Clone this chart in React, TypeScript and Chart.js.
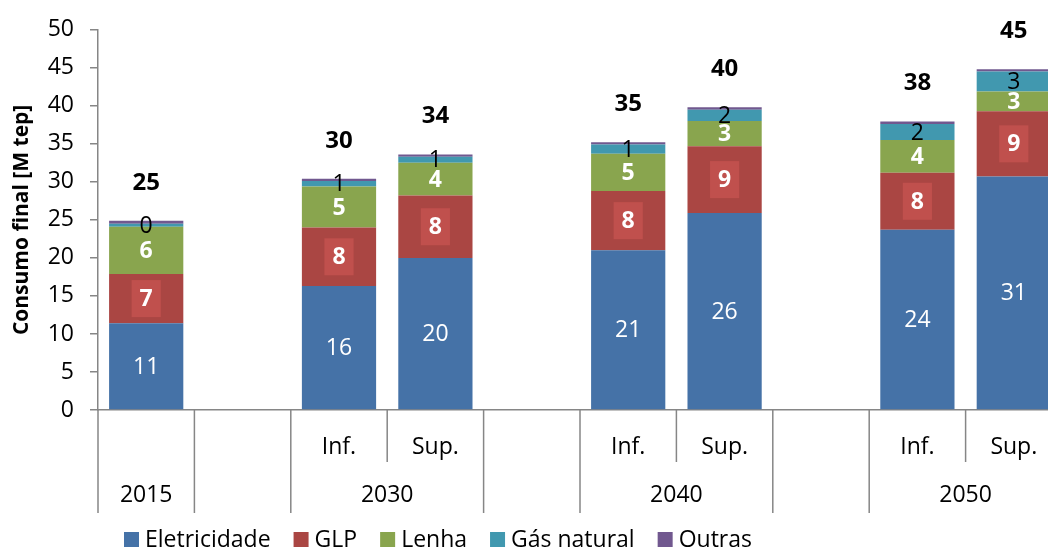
import { useEffect, useRef } from 'react';
import { Chart, registerables } from 'chart.js';

Chart.register(...registerables);

// ---- data ----
const subLabels = ['', '', 'Inf.', 'Sup.', '', 'Inf.', 'Sup.', '', 'Inf.', 'Sup.'];
const groupLabels = ['2015', '', '2030', '2030', '', '2040', '2040', '', '2050', '2050'];
const seriesNames = ['Eletricidade', 'GLP', 'Lenha', 'Gás natural', 'Outras'];
const eletricidade = [11.4, null, 16.3, 20.0, null, 21.0, 25.9, null, 23.7, 30.7];
const glp = [6.5, null, 7.7, 8.2, null, 7.8, 8.8, null, 7.5, 8.6];
const lenha = [6.2, null, 5.4, 4.3, null, 4.9, 3.3, null, 4.3, 2.6];
const gasNatural = [0.4, null, 0.7, 0.8, null, 1.2, 1.5, null, 2.1, 2.6];
const outras = [0.4, null, 0.3, 0.3, null, 0.3, 0.3, null, 0.35, 0.3];
const yTicks = [0, 5, 10, 15, 20, 25, 30, 35, 40, 45, 50];

// ---- styles ----
const FONT = "'Open Sans', sans-serif";
const colors = ['#4572A7', '#AA4643', '#89A54E', '#4198AF', '#71588F'];
const GRAY = '#868686';
type LabelStyle = { color: string; bold: boolean; box?: string } | null;
const labelStyles: LabelStyle[] = [
  { color: '#ffffff', bold: false },
  { color: '#ffffff', bold: true, box: '#C0504D' },
  { color: '#ffffff', bold: true },
  { color: '#000000', bold: false },
  null,
];

const labelPlugin = {
  id: 'valueLabels',
  afterDatasetsDraw(chart: any) {
    const ctx = chart.ctx;
    ctx.save();
    ctx.textAlign = 'center';
    ctx.textBaseline = 'middle';
    chart.data.datasets.forEach((ds: any, di: number) => {
      const st = labelStyles[di];
      if (!st) return;
      const meta = chart.getDatasetMeta(di);
      meta.data.forEach((bar: any, i: number) => {
        const v = ds.data[i];
        if (v == null) return;
        const p = bar.getProps(['x', 'y', 'base'], true);
        const cy = (p.y + p.base) / 2;
        const text = String(Math.round(v));
        ctx.font = `${st.bold ? 'bold ' : ''}23px ${FONT}`;
        if (st.box) {
          const w = ctx.measureText(text).width + 16;
          const h = 37;
          ctx.fillStyle = st.box;
          ctx.fillRect(p.x - w / 2, cy - h / 2, w, h);
        }
        ctx.fillStyle = st.color;
        ctx.fillText(text, p.x, cy + 1);
      });
    });
    // totals
    const y = chart.scales.y;
    const n = chart.data.labels.length;
    ctx.font = `bold 24px ${FONT}`;
    ctx.fillStyle = '#000';
    for (let i = 0; i < n; i++) {
      let sum = 0;
      let any = false;
      chart.data.datasets.forEach((ds: any) => {
        if (ds.data[i] != null) {
          sum += ds.data[i];
          any = true;
        }
      });
      if (!any) continue;
      const meta = chart.getDatasetMeta(0);
      const x = meta.data[i].getProps(['x'], true).x;
      ctx.fillText(String(Math.round(sum)), x, y.getPixelForValue(sum) - 38);
    }
    ctx.restore();
  },
};

const axisPlugin = {
  id: 'multiAxis',
  afterDraw(chart: any) {
    const ctx = chart.ctx;
    const xs = chart.scales.x;
    const top = chart.chartArea.bottom;
    const n = subLabels.length;
    const half = (xs.getPixelForValue(1) - xs.getPixelForValue(0)) / 2;
    ctx.save();
    ctx.strokeStyle = GRAY;
    ctx.lineWidth = 1.5;
    for (let k = 0; k <= n; k++) {
      const x = k < n ? xs.getPixelForValue(k) - half : xs.getPixelForValue(n - 1) + half;
      const full = k === 0 || k === n || groupLabels[k - 1] !== groupLabels[k] || groupLabels[k] === '';
      ctx.beginPath();
      ctx.moveTo(x, top);
      ctx.lineTo(x, top + (full ? 103 : 52));
      ctx.stroke();
    }
    ctx.fillStyle = '#000';
    ctx.textAlign = 'center';
    ctx.textBaseline = 'middle';
    ctx.font = `23px ${FONT}`;
    for (let i = 0; i < n; i++) {
      if (subLabels[i]) ctx.fillText(subLabels[i], xs.getPixelForValue(i), top + 37);
    }
    let i = 0;
    while (i < n) {
      let j = i;
      while (j + 1 < n && groupLabels[j + 1] === groupLabels[i] && groupLabels[i] !== '') j++;
      if (groupLabels[i]) {
        const cx = (xs.getPixelForValue(i) + xs.getPixelForValue(j)) / 2;
        ctx.fillText(groupLabels[i], cx, top + 85);
      }
      i = j + 1;
    }
    // legend
    let lx = 124;
    const ly = 532;
    chart.data.datasets.forEach((ds: any) => {
      ctx.fillStyle = ds.backgroundColor;
      ctx.fillRect(lx, ly, 15, 15);
      ctx.fillStyle = '#000';
      ctx.textAlign = 'left';
      ctx.fillText(ds.label, lx + 21, ly + 8);
      lx += 21 + ctx.measureText(ds.label).width + 23;
    });
    ctx.restore();
  },
};

export default function App() {
  const ref = useRef<HTMLCanvasElement>(null);
  useEffect(() => {
    const series = [eletricidade, glp, lenha, gasNatural, outras];
    const chart = new Chart(ref.current as HTMLCanvasElement, {
      type: 'bar',
      data: {
        labels: subLabels.map((s, i) => `${groupLabels[i]} ${s}`),
        datasets: series.map((d, i) => ({
          label: seriesNames[i],
          data: d,
          backgroundColor: colors[i],
          borderWidth: 0,
          categoryPercentage: 1,
          barPercentage: 0.77,
        })),
      },
      options: {
        animation: false,
        responsive: false,
        maintainAspectRatio: false,
        layout: { padding: { top: 27, right: 0, bottom: 0, left: 0 } },
        plugins: { legend: { display: false }, tooltip: { enabled: false } },
        scales: {
          x: {
            stacked: true,
            ticks: { display: false },
            grid: { display: false },
            border: { display: true, color: GRAY, width: 1.5 },
            afterFit: (s: any) => {
              s.height = 139;
            },
          },
          y: {
            stacked: true,
            min: 0,
            max: 50,
            afterBuildTicks: (s: any) => {
              s.ticks = yTicks.map((v) => ({ value: v }));
            },
            ticks: { color: '#000', font: { family: FONT, size: 23 }, padding: 16 },
            grid: { drawOnChartArea: false, drawTicks: true, tickLength: 8, color: GRAY, lineWidth: 1.5 },
            border: { display: true, color: GRAY, width: 1.5 },
            title: {
              display: true,
              text: 'Consumo final [M tep]',
              color: '#000',
              font: { family: FONT, size: 21, weight: 'bold' },
              padding: { top: 9, bottom: 0 },
            },
            afterFit: (s: any) => {
              s.width = 98;
            },
          },
        },
      },
      plugins: [labelPlugin, axisPlugin],
    });
    return () => chart.destroy();
  }, []);
  return (
    <div style={{ position: 'fixed', left: 0, top: 0, width: 1048, height: 549, overflow: 'hidden', background: '#fff' }}>
      <canvas ref={ref} width={1062} height={549} style={{ display: 'block' }} />
    </div>
  );
}
